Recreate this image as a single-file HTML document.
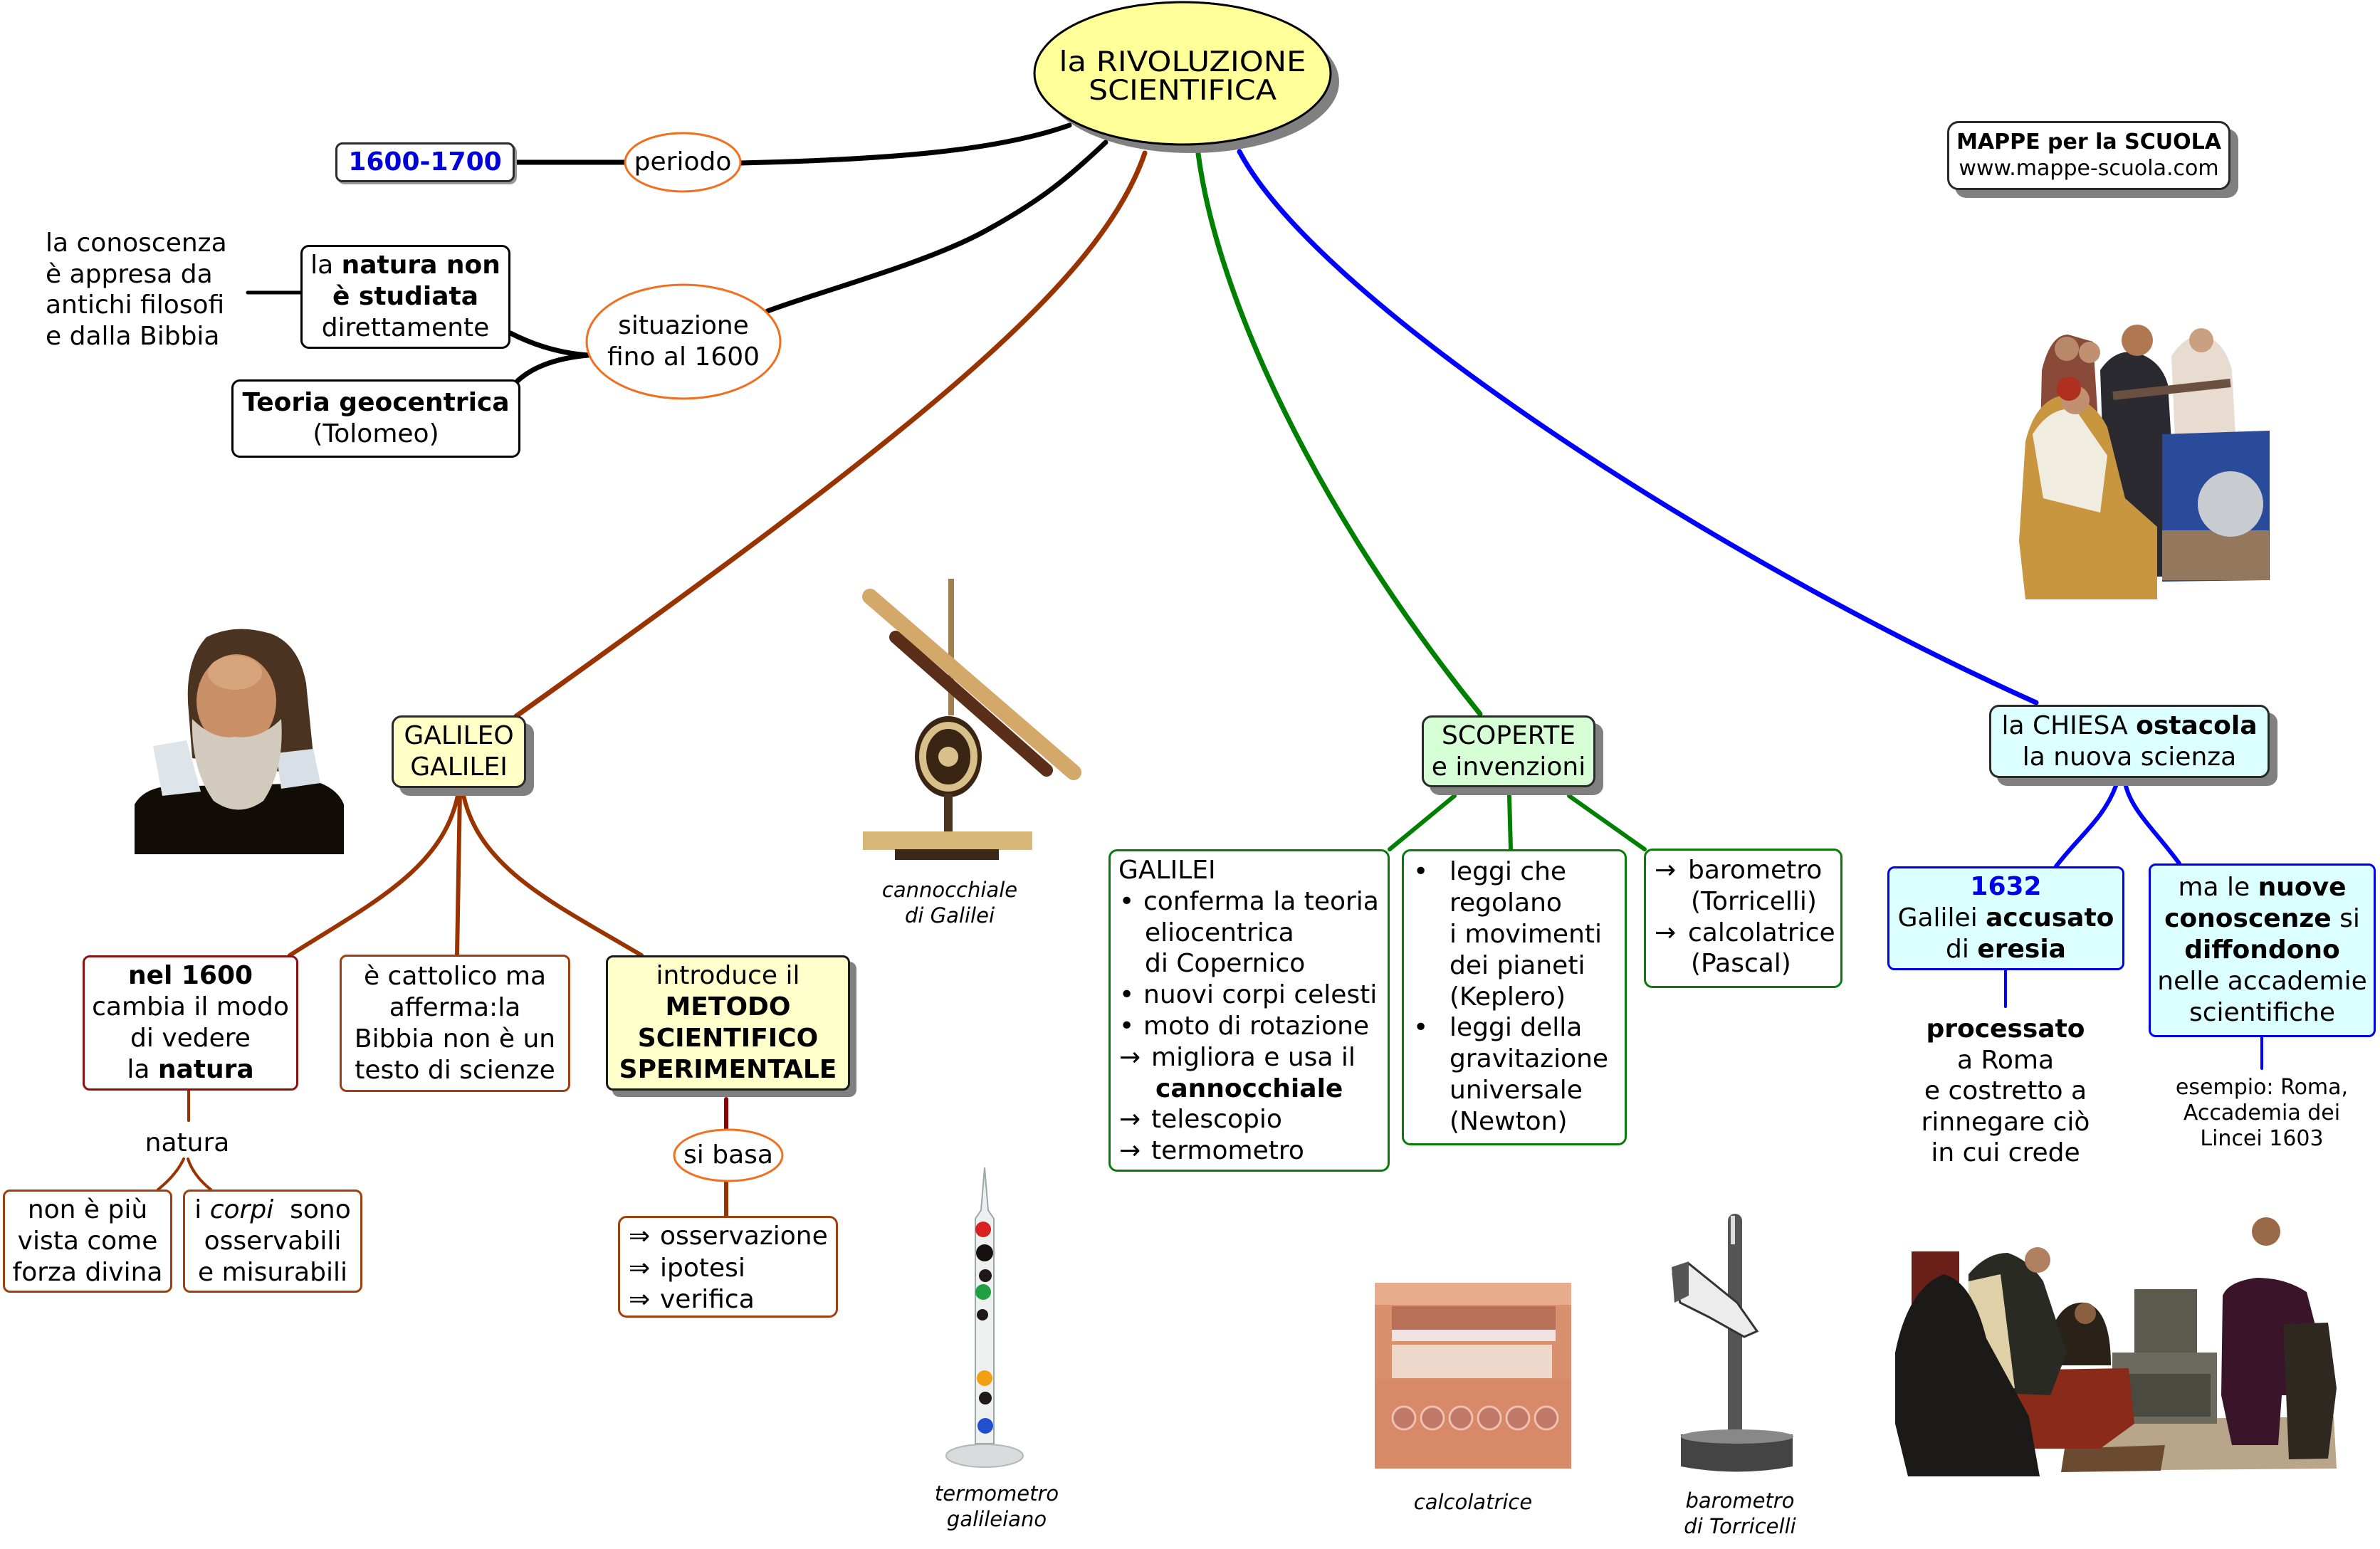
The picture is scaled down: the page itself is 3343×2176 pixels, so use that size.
<!DOCTYPE html>
<html>
<head>
<meta charset="utf-8">
<style>
html,body{margin:0;padding:0;background:#fff;}
body{width:3343px;height:2176px;position:relative;overflow:hidden;font-family:"DejaVu Sans","Liberation Sans",sans-serif;color:#000;}
svg{position:absolute;left:0;top:0;}
.n{position:absolute;box-sizing:border-box;display:flex;flex-direction:column;justify-content:center;align-items:center;text-align:center;font-size:36px;line-height:44px;white-space:nowrap;border-radius:14px;border:3px solid #2a2a2a;background:#fff;}
.sh{box-shadow:11px 11px 0 #808080;}
.lb{position:absolute;box-sizing:border-box;font-size:36px;line-height:44px;white-space:nowrap;border-radius:12px;background:#fff;}
.lb .l{position:absolute;white-space:nowrap;}
.t{position:absolute;font-size:36px;line-height:44px;white-space:nowrap;}
.cap{position:absolute;font-size:29px;line-height:36px;font-style:italic;text-align:center;white-space:nowrap;}
b{font-weight:bold;}
</style>
</head>
<body>
<svg width="3343" height="2176" viewBox="0 0 3343 2176" xmlns="http://www.w3.org/2000/svg">
<g fill="none" stroke-linecap="round">
  <!-- black connectors -->
  <path d="M723,228 L880,228" stroke="#000" stroke-width="7"/>
  <path d="M1040,229 C1250,224 1400,212 1502,176" stroke="#000" stroke-width="7"/>
  <path d="M1078,437 C1150,410 1300,370 1381,326 S1500,250 1553,200" stroke="#000" stroke-width="7"/>
  <path d="M348,411 L422,411" stroke="#000" stroke-width="5"/>
  <path d="M717,468 Q770,495 826,499" stroke="#000" stroke-width="7"/>
  <path d="M727,535 Q760,505 826,499" stroke="#000" stroke-width="7"/>
  <!-- main coloured connectors -->
  <path d="M1608,215 C1545,400 1280,610 725,1006" stroke="#993300" stroke-width="7"/>
  <path d="M1683,216 C1710,420 1850,720 2079,1003" stroke="#008000" stroke-width="7"/>
  <path d="M1741,213 C1850,420 2400,780 2860,987" stroke="#0000ff" stroke-width="7"/>
  <!-- Galileo children -->
  <path d="M644,1112 C625,1220 520,1270 407,1342" stroke="#993300" stroke-width="6"/>
  <path d="M646,1112 L642,1341" stroke="#993300" stroke-width="6"/>
  <path d="M650,1112 C670,1220 780,1270 901,1342" stroke="#993300" stroke-width="6"/>
  <path d="M265,1532 L265,1574" stroke="#993300" stroke-width="4"/>
  <path d="M258,1628 Q248,1650 222,1671" stroke="#993300" stroke-width="4"/>
  <path d="M264,1628 Q272,1652 296,1671" stroke="#993300" stroke-width="4"/>
  <path d="M1020,1544 L1020,1590" stroke="#8b0000" stroke-width="6"/>
  <path d="M1020,1656 L1020,1708" stroke="#993300" stroke-width="6"/>
  <!-- SCOPERTE children -->
  <path d="M2043,1118 L1952,1193" stroke="#008000" stroke-width="6"/>
  <path d="M2120,1118 L2122,1193" stroke="#008000" stroke-width="6"/>
  <path d="M2204,1118 L2310,1193" stroke="#008000" stroke-width="6"/>
  <!-- CHIESA children -->
  <path d="M2972,1104 C2955,1150 2920,1175 2888,1217" stroke="#0000ff" stroke-width="6"/>
  <path d="M2986,1104 C2995,1140 3030,1170 3061,1213" stroke="#0000ff" stroke-width="6"/>
  <path d="M2817,1363 L2817,1414" stroke="#0000ff" stroke-width="4"/>
  <path d="M3177,1457 L3177,1501" stroke="#0000ff" stroke-width="4"/>
</g>

<!-- central ellipse -->
<ellipse cx="1673" cy="115" rx="208" ry="100" fill="#808080"/>
<ellipse cx="1661" cy="103" rx="208" ry="100" fill="#ffff99" stroke="#000" stroke-width="3"/>
<text x="1661" y="100" text-anchor="middle" font-family="DejaVu Sans, Liberation Sans, sans-serif" font-size="39" textLength="347" lengthAdjust="spacingAndGlyphs">la RIVOLUZIONE</text>
<text x="1661" y="140" text-anchor="middle" font-family="DejaVu Sans, Liberation Sans, sans-serif" font-size="39" textLength="264" lengthAdjust="spacingAndGlyphs">SCIENTIFICA</text>

<!-- orange ellipses -->
<ellipse cx="959" cy="228" rx="81" ry="41" fill="#fff" stroke="#f07020" stroke-width="3"/>
<ellipse cx="960" cy="480" rx="136" ry="80" fill="#fff" stroke="#f07020" stroke-width="3"/>
<ellipse cx="1023" cy="1623" rx="76" ry="36" fill="#fff" stroke="#f07020" stroke-width="3"/>

<!-- Galileo portrait -->
<g>
  <path d="M189,1200 L189,1130 Q200,1110 230,1105 L450,1100 Q475,1110 483,1130 L483,1200Z" fill="#120c06"/>
  <path d="M265,1000 Q258,930 290,895 Q330,875 380,890 Q420,905 430,960 L440,1060 L400,1085 L270,1065Z" fill="#4a3320"/>
  <ellipse cx="332" cy="985" rx="56" ry="66" fill="#c99068"/>
  <ellipse cx="330" cy="945" rx="38" ry="24" fill="#d8a47c"/>
  <path d="M215,1048 L262,1040 L282,1112 L228,1118Z" fill="#dde4ea"/>
  <path d="M388,1058 L440,1052 L450,1100 L395,1108Z" fill="#d8dfe6"/>
  <path d="M270,1010 Q300,1040 330,1035 Q365,1040 395,1010 Q400,1080 370,1125 Q335,1150 300,1125 Q268,1080 270,1010Z" fill="#d2cbbd"/>
</g>

<!-- cannocchiale -->
<g>
  <line x1="1336" y1="813" x2="1336" y2="1005" stroke="#a08050" stroke-width="8"/>
  <line x1="1258" y1="895" x2="1470" y2="1082" stroke="#5a2e18" stroke-width="18" stroke-linecap="round"/>
  <line x1="1222" y1="838" x2="1508" y2="1085" stroke="#d4a868" stroke-width="22" stroke-linecap="round"/>
  <ellipse cx="1332" cy="1063" rx="47" ry="57" fill="#3a2414"/>
  <ellipse cx="1332" cy="1063" rx="36" ry="44" fill="none" stroke="#d8c08a" stroke-width="10"/>
  <circle cx="1332" cy="1063" r="14" fill="#d8c08a"/>
  <rect x="1326" y="1115" width="12" height="55" fill="#4a3420"/>
  <rect x="1212" y="1168" width="238" height="26" fill="#d8b878"/>
  <rect x="1257" y="1193" width="146" height="15" fill="#3a2818"/>
</g>

<!-- termometro -->
<g>
  <path d="M1383,1640 L1388,1700 L1396,1712 L1396,2028 L1370,2028 L1370,1712 L1378,1700Z" fill="#eef0f0" stroke="#99a8a8" stroke-width="2"/>
  <circle cx="1381" cy="1727" r="11" fill="#d82020"/>
  <circle cx="1383" cy="1760" r="12" fill="#181010"/>
  <circle cx="1384" cy="1792" r="9" fill="#201818"/>
  <circle cx="1381" cy="1815" r="11" fill="#20a040"/>
  <circle cx="1380" cy="1847" r="8" fill="#201818"/>
  <circle cx="1383" cy="1936" r="11" fill="#f0a010"/>
  <circle cx="1384" cy="1964" r="9" fill="#201818"/>
  <circle cx="1384" cy="2003" r="11" fill="#2050d0"/>
  <ellipse cx="1383" cy="2045" rx="54" ry="16" fill="#d8dcdc" stroke="#b0b8b8" stroke-width="2"/>
</g>

<!-- calcolatrice -->
<g>
  <rect x="1931" y="1802" width="276" height="261" fill="#d9906c"/>
  <rect x="1931" y="1802" width="276" height="31" fill="#e6ac8c"/>
  <rect x="1955" y="1835" width="230" height="48" fill="#b87058"/>
  <rect x="1955" y="1868" width="230" height="16" fill="#f2e2e2"/>
  <rect x="1955" y="1889" width="225" height="47" fill="#eed8cc"/>
  <rect x="1931" y="1937" width="276" height="126" fill="#d88a68"/>
  <g fill="#c07868" stroke="#f0c0b0" stroke-width="3">
    <circle cx="1972" cy="1992" r="16"/><circle cx="2012" cy="1992" r="16"/><circle cx="2052" cy="1992" r="16"/>
    <circle cx="2092" cy="1992" r="16"/><circle cx="2132" cy="1992" r="16"/><circle cx="2172" cy="1992" r="16"/>
  </g>
</g>

<!-- barometro -->
<g>
  <rect x="2427" y="1705" width="20" height="325" rx="10" fill="#555"/>
  <rect x="2431" y="1708" width="6" height="40" fill="#ddd"/>
  <path d="M2350,1790 L2372,1775 L2440,1830 L2468,1870 L2450,1878 L2400,1850 L2360,1830Z" fill="#ececec" stroke="#333" stroke-width="3"/>
  <path d="M2348,1780 L2372,1772 L2372,1820 L2352,1830Z" fill="#555"/>
  <path d="M2361,2015 L2518,2015 L2518,2060 Q2440,2075 2361,2060Z" fill="#444"/>
  <ellipse cx="2440" cy="2018" rx="79" ry="10" fill="#888"/>
</g>

<!-- top-right painting -->
<g>
  <path d="M2868,520 Q2880,470 2905,470 L2940,480 L2950,640 L2865,650Z" fill="#8a4a3a"/>
  <circle cx="2903" cy="490" r="17" fill="#b88868"/>
  <circle cx="2935" cy="495" r="15" fill="#c09070"/>
  <path d="M3050,500 Q3070,470 3095,470 Q3125,480 3135,520 L3140,610 L3055,615Z" fill="#e8dcd0"/>
  <circle cx="3092" cy="478" r="17" fill="#c8a080"/>
  <path d="M2950,520 Q2970,490 3000,495 Q3035,505 3045,540 L3055,700 L3040,810 L2960,810Z" fill="#2a2a30"/>
  <circle cx="3002" cy="478" r="22" fill="#b07850"/>
  <path d="M3037,610 L3188,605 L3188,815 L3037,817Z" fill="#2a4a9a"/>
  <rect x="3037" y="745" width="150" height="70" fill="#b8884a" opacity="0.75"/>
  <circle cx="3133" cy="708" r="46" fill="#c8ccd0"/>
  <line x1="2968" y1="556" x2="3133" y2="538" stroke="#6a5040" stroke-width="12"/>
  <path d="M2845,620 Q2860,560 2900,555 Q2940,560 2960,600 L2985,700 L3030,740 L3030,842 L2845,842 L2836,760Z" fill="#c8963e"/>
  <path d="M2855,610 Q2880,570 2915,575 L2960,640 L2950,720 L2870,700Z" fill="#f0ece0"/>
  <circle cx="2915" cy="562" r="20" fill="#c09070"/>
  <circle cx="2906" cy="546" r="17" fill="#b03020"/>
</g>

<!-- trial painting -->
<g>
  <polygon points="2900,1995 3278,1990 3282,2063 2900,2066" fill="#b8a58a"/>
  <polygon points="2900,2035 3041,2030 3035,2066 2895,2068" fill="#6a4a30"/>
  <rect x="2998" y="1811" width="88" height="92" fill="#5b5a4c"/>
  <rect x="2967" y="1900" width="147" height="100" fill="#6c6a5e"/>
  <rect x="2975" y="1930" width="130" height="60" fill="#4a4a40"/>
  <rect x="2685" y="1758" width="67" height="85" fill="#6a2018"/>
  <polygon points="2808,1925 2990,1922 2998,2000 2950,2035 2810,2035" fill="#8a2a18"/>
  <path d="M2885,1860 Q2900,1827 2930,1830 Q2965,1840 2965,1918 L2885,1918Z" fill="#2a2218"/>
  <circle cx="2929" cy="1845" r="15" fill="#8a6040"/>
  <path d="M2765,1790 Q2790,1760 2820,1760 Q2850,1770 2870,1800 L2903,1900 L2880,1960 L2765,1955Z" fill="#2a2a24"/>
  <path d="M2765,1800 L2810,1790 L2830,1950 L2765,1955Z" fill="#e0d0a8"/>
  <circle cx="2862" cy="1770" r="18" fill="#b08060"/>
  <path d="M2662,1900 Q2680,1810 2730,1790 Q2770,1800 2790,1880 L2850,1990 L2865,2074 L2680,2074 L2662,2000Z" fill="#1c1a18"/>
  <circle cx="3183" cy="1730" r="20" fill="#9a6a48"/>
  <path d="M3122,1820 Q3130,1800 3170,1795 Q3210,1795 3240,1815 L3262,1900 L3250,1960 L3205,1960 L3200,2030 L3135,2030 L3120,1960Z" fill="#3a1428"/>
  <path d="M3207,1860 L3270,1858 L3282,1950 L3270,2049 L3215,2050Z" fill="#2e2820"/>
</g>
</svg>

<!-- ellipse labels -->
<div class="t" style="left:859px;top:206px;width:200px;text-align:center;">periodo</div>
<div class="t" style="left:840px;top:436px;width:240px;text-align:center;">situazione<br>fino al 1600</div>
<div class="t" style="left:943px;top:1601px;width:160px;text-align:center;">si basa</div>

<!-- top-left -->
<div class="n" style="left:471px;top:200px;width:252px;height:56px;border-radius:10px;box-shadow:3px 3px 0 #999;color:#0000dd;"><b>1600-1700</b></div>
<div class="t" style="left:64px;top:320px;line-height:43.5px;">la conoscenza<br>è appresa da<br>antichi filosofi<br>e dalla Bibbia</div>
<div class="n" style="left:422px;top:344px;width:295px;height:146px;border-radius:12px;border-color:#000;"><div>la <b>natura non</b></div><div><b>è studiata</b></div><div>direttamente</div></div>
<div class="n" style="left:325px;top:533px;width:406px;height:110px;border-radius:12px;border-color:#000;"><div><b>Teoria geocentrica</b></div><div>(Tolomeo)</div></div>

<!-- MAPPE -->
<div class="n sh" style="left:2735px;top:170px;width:398px;height:97px;font-size:30px;line-height:36.5px;border-radius:16px;"><div><b>MAPPE per la SCUOLA</b></div><div>www.mappe-scuola.com</div></div>

<!-- GALILEO -->
<div class="n sh" style="left:550px;top:1005px;width:189px;height:102px;background:#ffffc6;"><div>GALILEO</div><div>GALILEI</div></div>
<div class="n" style="left:116px;top:1342px;width:303px;height:190px;border-color:#8b1010;border-radius:10px;"><div><b>nel 1600</b></div><div>cambia il modo</div><div>di vedere</div><div>la <b>natura</b></div></div>
<div class="n" style="left:477px;top:1341px;width:324px;height:193px;border-color:#a04010;border-radius:10px;"><div>è cattolico ma</div><div>afferma:la</div><div>Bibbia non è un</div><div>testo di scienze</div></div>
<div class="n sh" style="left:851px;top:1342px;width:343px;height:190px;background:#ffffcc;border-color:#1a1a1a;border-radius:10px;box-shadow:9px 9px 0 #808080;"><div>introduce il</div><div><b>METODO</b></div><div><b>SCIENTIFICO</b></div><div><b>SPERIMENTALE</b></div></div>
<div class="t" style="left:183px;top:1584px;width:160px;text-align:center;">natura</div>
<div class="n" style="left:4px;top:1671px;width:238px;height:145px;border-color:#a04010;border-radius:10px;"><div>non è più</div><div>vista come</div><div>forza divina</div></div>
<div class="n" style="left:257px;top:1671px;width:252px;height:145px;border-color:#a04010;border-radius:10px;"><div>i <i>corpi</i>&nbsp; sono</div><div>osservabili</div><div>e misurabili</div></div>
<div class="lb" style="left:868px;top:1708px;width:309px;height:143px;border:3px solid #a04010;">
  <div class="l" style="left:12px;top:4px;">⇒</div><div class="l" style="left:56px;top:4px;">osservazione</div>
  <div class="l" style="left:12px;top:49px;">⇒</div><div class="l" style="left:56px;top:49px;">ipotesi</div>
  <div class="l" style="left:12px;top:93px;">⇒</div><div class="l" style="left:56px;top:93px;">verifica</div>
</div>

<!-- captions -->
<div class="cap" style="left:1234px;top:1232px;width:200px;">cannocchiale<br>di Galilei</div>
<div class="cap" style="left:1300px;top:2080px;width:200px;">termometro<br>galileiano</div>
<div class="cap" style="left:1969px;top:2092px;width:200px;">calcolatrice</div>
<div class="cap" style="left:2334px;top:2090px;width:220px;">barometro<br>di Torricelli</div>

<!-- SCOPERTE -->
<div class="n sh" style="left:1997px;top:1005px;width:244px;height:101px;background:#d6ffd6;"><div>SCOPERTE</div><div>e invenzioni</div></div>
<div class="lb" style="left:1557px;top:1193px;width:395px;height:453px;border:3px solid #0a7a0a;">
  <div class="l" style="left:11px;top:5px;">GALILEI</div>
  <div class="l" style="left:12px;top:49px;">•</div><div class="l" style="left:46px;top:49px;">conferma la teoria</div>
  <div class="l" style="left:48px;top:93px;">eliocentrica</div>
  <div class="l" style="left:48px;top:136px;">di Copernico</div>
  <div class="l" style="left:12px;top:180px;">•</div><div class="l" style="left:46px;top:180px;">nuovi corpi celesti</div>
  <div class="l" style="left:12px;top:224px;">•</div><div class="l" style="left:46px;top:224px;">moto di rotazione</div>
  <div class="l" style="left:12px;top:268px;">→</div><div class="l" style="left:57px;top:268px;">migliora e usa il</div>
  <div class="l" style="left:63px;top:312px;"><b>cannocchiale</b></div>
  <div class="l" style="left:12px;top:355px;">→</div><div class="l" style="left:57px;top:355px;">telescopio</div>
  <div class="l" style="left:12px;top:399px;">→</div><div class="l" style="left:57px;top:399px;">termometro</div>
</div>
<div class="lb" style="left:1969px;top:1193px;width:316px;height:416px;border:3px solid #0a7a0a;">
  <div class="l" style="left:13px;top:7px;">•</div><div class="l" style="left:64px;top:7px;">leggi che</div>
  <div class="l" style="left:64px;top:51px;">regolano</div>
  <div class="l" style="left:64px;top:95px;">i movimenti</div>
  <div class="l" style="left:64px;top:139px;">dei pianeti</div>
  <div class="l" style="left:64px;top:183px;">(Keplero)</div>
  <div class="l" style="left:13px;top:226px;">•</div><div class="l" style="left:64px;top:226px;">leggi della</div>
  <div class="l" style="left:64px;top:270px;">gravitazione</div>
  <div class="l" style="left:64px;top:314px;">universale</div>
  <div class="l" style="left:64px;top:358px;">(Newton)</div>
</div>
<div class="lb" style="left:2309px;top:1192px;width:279px;height:196px;border:3px solid #0a7a0a;">
  <div class="l" style="left:12px;top:6px;">→</div><div class="l" style="left:59px;top:6px;">barometro</div>
  <div class="l" style="left:63px;top:50px;">(Torricelli)</div>
  <div class="l" style="left:12px;top:94px;">→</div><div class="l" style="left:59px;top:94px;">calcolatrice</div>
  <div class="l" style="left:63px;top:137px;">(Pascal)</div>
</div>

<!-- CHIESA -->
<div class="n sh" style="left:2794px;top:990px;width:394px;height:103px;background:#dcffff;"><div>la CHIESA <b>ostacola</b></div><div>la nuova scienza</div></div>
<div class="n" style="left:2651px;top:1217px;width:333px;height:146px;background:#dcffff;border-color:#0000ee;border-radius:10px;"><div style="color:#0000ee;"><b>1632</b></div><div>Galilei <b>accusato</b></div><div>di <b>eresia</b></div></div>
<div class="n" style="left:3018px;top:1213px;width:319px;height:244px;background:#dcffff;border-color:#0000ee;border-radius:10px;"><div>ma le <b>nuove</b></div><div><b>conoscenze</b> si</div><div><b>diffondono</b></div><div>nelle accademie</div><div>scientifiche</div></div>
<div class="t" style="left:2617px;top:1424px;width:400px;text-align:center;line-height:43.5px;"><b>processato</b><br>a Roma<br>e costretto a<br>rinnegare ciò<br>in cui crede</div>
<div class="t" style="left:3017px;top:1510px;width:320px;text-align:center;font-size:30px;line-height:36px;">esempio: Roma,<br>Accademia dei<br>Lincei 1603</div>
</body>
</html>
